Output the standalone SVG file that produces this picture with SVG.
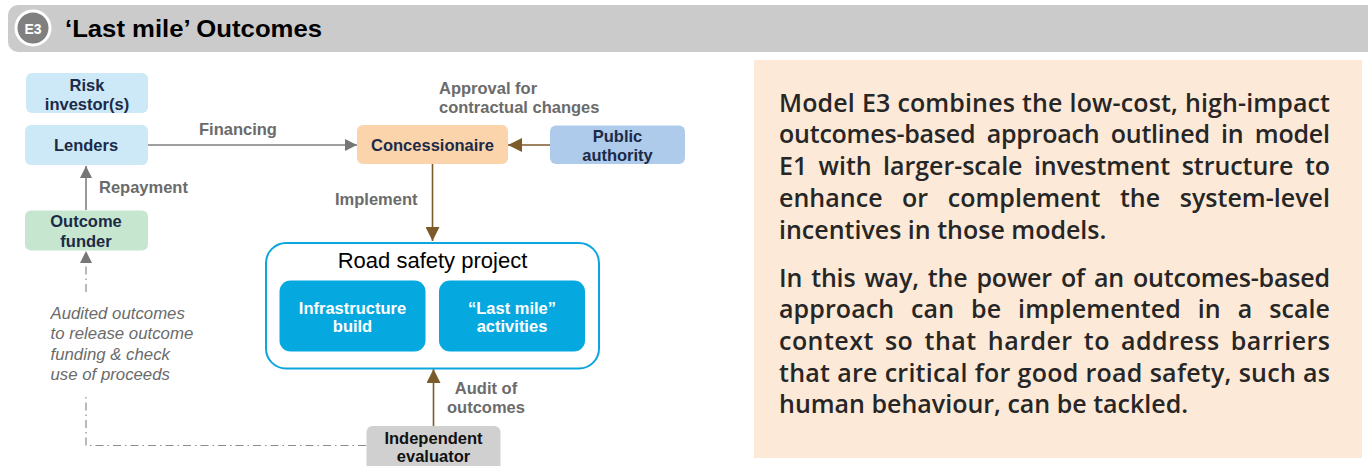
<svg xmlns="http://www.w3.org/2000/svg" width="1368" height="466" viewBox="0 0 1368 466">
<defs>
<style>
.nt{font-family:"Liberation Sans",Arial,sans-serif;font-weight:700;font-size:16.5px;fill:#1b2a47;text-anchor:middle}
.lb{font-family:"Liberation Sans",Arial,sans-serif;font-weight:700;font-size:16.5px;fill:#6b6b6b}
.it{font-family:"Liberation Sans",Arial,sans-serif;font-style:italic;font-size:16.8px;fill:#6b6b6b}
.wt{font-family:"Liberation Sans",Arial,sans-serif;font-weight:700;font-size:16.5px;fill:#ffffff;text-anchor:middle}
.rt{font-family:"Open Sans","Noto Sans",sans-serif;font-weight:600;font-size:25px;fill:#262626}
.gl{stroke:#7f7f7f;stroke-width:1.6;fill:none}
.bl{stroke:#7d5a2a;stroke-width:1.6;fill:none}
.dd{stroke:#8c8c8c;stroke-width:1.2;fill:none;stroke-dasharray:8 4 1.5 4}
</style>
<marker id="ag" viewBox="0 0 12 12" refX="12" refY="6" markerWidth="12" markerHeight="12" markerUnits="userSpaceOnUse" orient="auto"><path d="M0,0 L12,6 L0,12 z" fill="#767676"/></marker>
<marker id="ab" viewBox="0 0 14 14" refX="14" refY="7" markerWidth="14" markerHeight="14" markerUnits="userSpaceOnUse" orient="auto"><path d="M0,0 L14,7 L0,14 z" fill="#7d5a2a"/></marker>
</defs>

<g id="header">
<path d="M18,5 H1368 V52 H18 A10,10 0 0 1 8,42 V15 A10,10 0 0 1 18,5 z" fill="#cbcbcb"/>
<circle cx="33" cy="28" r="17" fill="#808080" stroke="#ffffff" stroke-width="3"/>
<text x="33" y="33.5" font-family="Liberation Sans,Arial,sans-serif" font-weight="700" font-size="14" fill="#ffffff" text-anchor="middle">E3</text>
<text x="65" y="37" font-family="Liberation Sans,Arial,sans-serif" font-weight="700" font-size="24" fill="#000000" textLength="257" lengthAdjust="spacingAndGlyphs">‘Last mile’ Outcomes</text>
</g>

<g id="connectors">
<line class="gl" x1="147" y1="145" x2="357" y2="145" marker-end="url(#ag)"/>
<line class="gl" x1="86" y1="210" x2="86" y2="166" marker-end="url(#ag)"/>
<line class="bl" x1="550" y1="145" x2="508" y2="145" marker-end="url(#ab)"/>
<line class="bl" x1="432.5" y1="164" x2="432.5" y2="241" marker-end="url(#ab)"/>
<line class="bl" x1="433.5" y1="426" x2="433.5" y2="369" marker-end="url(#ab)"/>
<polyline class="dd" points="366,445.5 86,445.5 86,395"/>
<line class="dd" x1="86" y1="292" x2="86" y2="262"/>
<path d="M80,263 L86,251 L92,263 z" fill="#767676"/>
<text class="lb" x="199" y="135">Financing</text>
<text class="lb" x="99" y="193">Repayment</text>
<text class="lb" x="439" y="93.5">Approval for</text>
<text class="lb" x="439" y="112.5">contractual changes</text>
<text class="lb" x="335" y="205">Implement</text>
<text class="lb" x="486" y="394" text-anchor="middle">Audit of</text>
<text class="lb" x="486" y="412.5" text-anchor="middle">outcomes</text>
<text class="it" x="50.5" y="318.5">Audited outcomes</text>
<text class="it" x="50.5" y="339">to release outcome</text>
<text class="it" x="50.5" y="359.5">funding &amp; check</text>
<text class="it" x="50.5" y="380">use of proceeds</text>
</g>

<g id="risk-investors">
<rect x="26" y="73" width="122" height="40" rx="6" fill="#cde8f7"/>
<text class="nt" x="87" y="90.5">Risk</text>
<text class="nt" x="87" y="110">investor(s)</text>
</g>
<g id="lenders">
<rect x="25" y="125" width="123" height="40" rx="6" fill="#cde8f7"/>
<text class="nt" x="86" y="151">Lenders</text>
</g>
<g id="outcome-funder">
<rect x="25" y="210.5" width="123" height="40" rx="6" fill="#c7e6d0"/>
<text class="nt" x="86" y="227">Outcome</text>
<text class="nt" x="86" y="246.5">funder</text>
</g>
<g id="concessionaire">
<rect x="357" y="125" width="151" height="39" rx="6" fill="#fcd4ab"/>
<text class="nt" x="432.5" y="151">Concessionaire</text>
</g>
<g id="public-authority">
<rect x="550" y="125.5" width="135" height="38.5" rx="6" fill="#aecbeb"/>
<text class="nt" x="617.5" y="141.5">Public</text>
<text class="nt" x="617.5" y="161">authority</text>
</g>
<g id="road-safety-project">
<rect x="266" y="243" width="333" height="125.5" rx="20" fill="#ffffff" stroke="#0aa6dd" stroke-width="2"/>
<text x="432.5" y="267.5" font-family="Liberation Sans,Arial,sans-serif" font-size="22" fill="#000000" text-anchor="middle">Road safety project</text>
</g>
<g id="infrastructure-build">
<rect x="279.5" y="280.5" width="146" height="71" rx="11" fill="#05a9e0"/>
<text class="wt" x="352.5" y="313.5">Infrastructure</text>
<text class="wt" x="352.5" y="332">build</text>
</g>
<g id="last-mile-activities">
<rect x="439" y="280.5" width="146" height="71" rx="11" fill="#05a9e0"/>
<text class="wt" x="512" y="313.5">“Last mile”</text>
<text class="wt" x="512" y="332">activities</text>
</g>
<g id="independent-evaluator">
<rect x="366.5" y="426" width="134" height="50" rx="6" fill="#d0d0d0"/>
<text class="nt" x="433.5" y="443.5" style="fill:#111">Independent</text>
<text class="nt" x="433.5" y="462" style="fill:#111">evaluator</text>
</g>

<g id="description">
<rect x="754" y="60" width="608" height="398" fill="#fde9d7"/>
<text class="rt" x="779" y="111.5" word-spacing="0.4" textLength="551" lengthAdjust="spacing"><tspan>Model</tspan> <tspan>E3</tspan> <tspan>combines</tspan> <tspan>the</tspan> <tspan>low-cost,</tspan> <tspan>high-impact</tspan></text>
<text class="rt" x="779" y="143.3" word-spacing="5" textLength="551" lengthAdjust="spacing"><tspan>outcomes-based</tspan> <tspan>approach</tspan> <tspan>outlined</tspan> <tspan>in</tspan> <tspan>model</tspan></text>
<text class="rt" x="779" y="175" word-spacing="5" textLength="551" lengthAdjust="spacing"><tspan>E1</tspan> <tspan>with</tspan> <tspan>larger-scale</tspan> <tspan>investment</tspan> <tspan>structure</tspan> <tspan>to</tspan></text>
<text class="rt" x="779" y="206.7" word-spacing="13" textLength="551" lengthAdjust="spacing"><tspan>enhance</tspan> <tspan>or</tspan> <tspan>complement</tspan> <tspan>the</tspan> <tspan>system-level</tspan></text>
<text class="rt" x="779" y="238.5">incentives in those models.</text>
<text class="rt" x="779" y="286.7" word-spacing="2.7" textLength="551" lengthAdjust="spacing"><tspan>In</tspan> <tspan>this</tspan> <tspan>way,</tspan> <tspan>the</tspan> <tspan>power</tspan> <tspan>of</tspan> <tspan>an</tspan> <tspan>outcomes-based</tspan></text>
<text class="rt" x="779" y="318.3" word-spacing="10.3" textLength="551" lengthAdjust="spacing"><tspan>approach</tspan> <tspan>can</tspan> <tspan>be</tspan> <tspan>implemented</tspan> <tspan>in</tspan> <tspan>a</tspan> <tspan>scale</tspan></text>
<text class="rt" x="779" y="350" word-spacing="4.3" textLength="551" lengthAdjust="spacing"><tspan>context</tspan> <tspan>so</tspan> <tspan>that</tspan> <tspan>harder</tspan> <tspan>to</tspan> <tspan>address</tspan> <tspan>barriers</tspan></text>
<text class="rt" x="779" y="381.7" word-spacing="0.3" textLength="551" lengthAdjust="spacing"><tspan>that</tspan> <tspan>are</tspan> <tspan>critical</tspan> <tspan>for</tspan> <tspan>good</tspan> <tspan>road</tspan> <tspan>safety,</tspan> <tspan>such</tspan> <tspan>as</tspan></text>
<text class="rt" x="779" y="413.3">human behaviour, can be tackled.</text>
</g>
</svg>
